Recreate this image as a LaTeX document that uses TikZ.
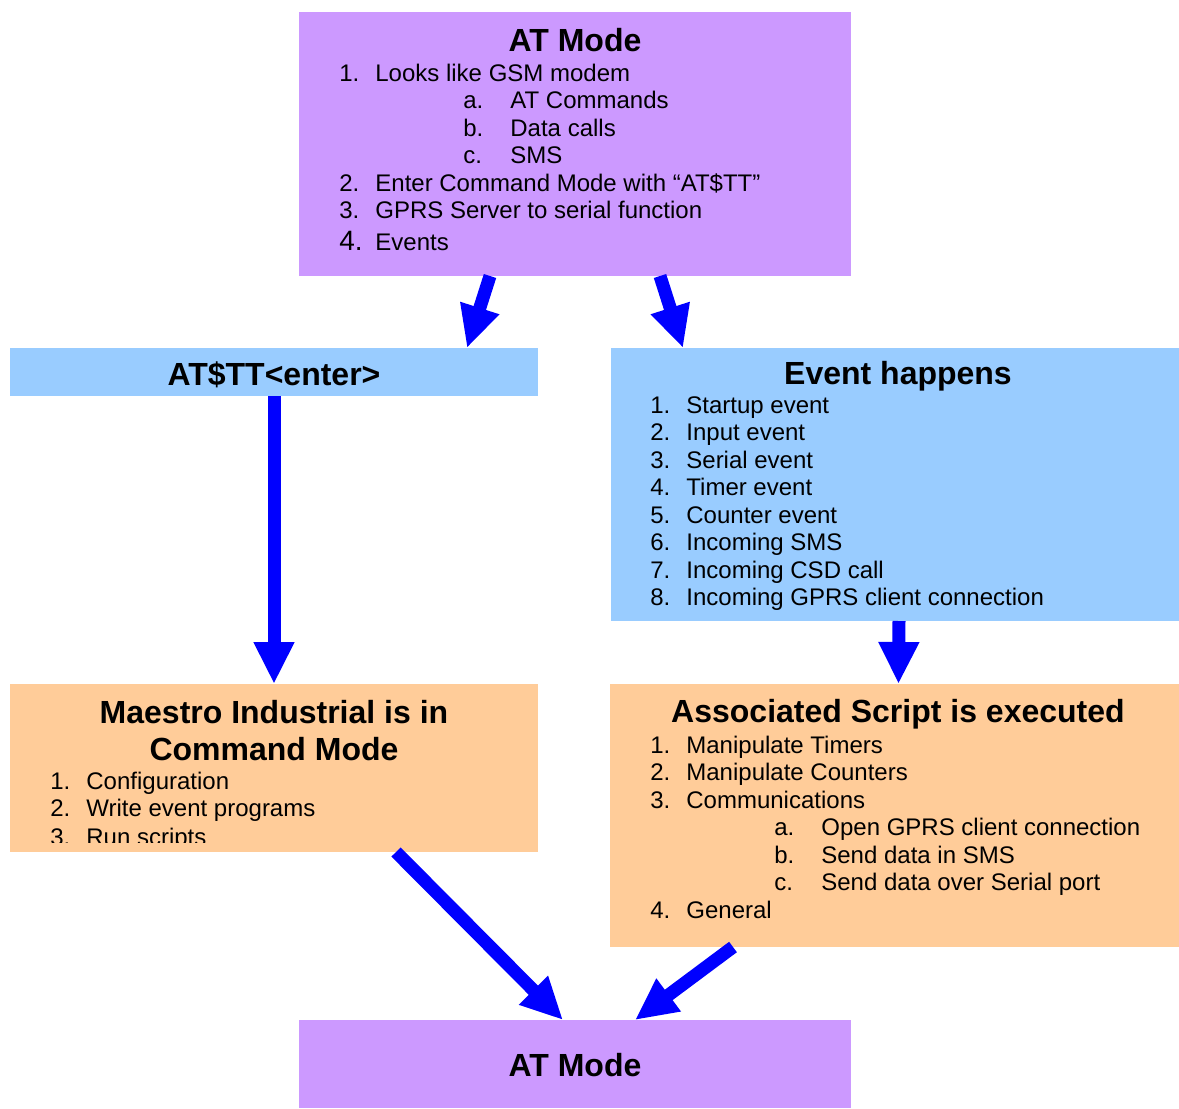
\documentclass[tikz,border=0pt]{standalone}
\usepackage{fontspec}
\setmainfont{Liberation Sans}
\usepackage{tikz}
\usetikzlibrary{
  arrows.meta
}
\definecolor{atmode}{HTML}{CC99FF}
\definecolor{trigger}{HTML}{99CCFF}
\definecolor{action}{HTML}{FFCC99}
\colorlet{flow}{blue}
\tikzset{
  every box/.style={inner sep=0pt,outer sep=0pt},
  at box/.style={every box,fill=atmode},
  trigger box/.style={every box,fill=trigger},
  action box/.style={every box,fill=action},
  box title/.style={font=\fontsize{16}{18.5}\selectfont\bfseries,anchor=base,inner sep=0pt},
  box list/.style={font=\fontsize{12}{13.75}\selectfont,anchor=base west,inner sep=0pt},
  flow arrow/.style={draw=flow,line width=6.5pt,-{Triangle[width=19pt,length=21pt]}},
}
\newcommand\numitem[2]{\makebox[18pt][l]{#1}#2}
\newcommand\letitem[2]{\hspace*{62pt}\makebox[23.5pt][l]{#1}#2}

\begin{document}
\begin{tikzpicture}[x=0.5pt,y=-0.5pt]
\useasboundingbox (0,0) rectangle (1179,1109);
\node[at box,minimum width=276pt,minimum height=132pt] (top) at (575,144) {};
\node[trigger box,minimum width=264pt,minimum height=24pt] (att) at (274,372) {};
\node[trigger box,minimum width=284pt,minimum height=136.5pt] (event) at (895,484.5) {};
\node[action box,minimum width=264pt,minimum height=84pt] (maestro) at (274,768) {};
\node[action box,minimum width=284.5pt,minimum height=131.5pt] (script) at (894.5,815.5) {};
\node[at box,minimum width=276pt,minimum height=44pt] (bottom) at (575,1064) {};

\node[box title] (toptitle) at (575,51) {AT Mode};
\node[box list] (toplist) at (339,81) {\begin{tabular}[t]{@{}l@{}}
  \numitem{1.}{Looks like GSM modem}\\
  \letitem{a.}{AT Commands}\\
  \letitem{b.}{Data calls}\\
  \letitem{c.}{SMS}\\
  \numitem{2.}{Enter Command Mode with “AT\$TT”}\\
  \numitem{3.}{GPRS Server to serial function}\\[2.25pt]
  \numitem{\fontsize{14}{16}\selectfont 4.}{Events}
\end{tabular}};

\node[box title] (atttitle) at (274,385) {AT\$TT<enter>};

\node[box title] (eventtitle) at (898,384) {Event happens};
\node[box list] (eventlist) at (650,413) {\begin{tabular}[t]{@{}l@{}}
  \numitem{1.}{Startup event}\\
  \numitem{2.}{Input event}\\
  \numitem{3.}{Serial event}\\
  \numitem{4.}{Timer event}\\
  \numitem{5.}{Counter event}\\
  \numitem{6.}{Incoming SMS}\\
  \numitem{7.}{Incoming CSD call}\\
  \numitem{8.}{Incoming GPRS client connection}
\end{tabular}};

\node[box title] (maestrotitle) at (274,723) {\begin{tabular}[t]{@{}c@{}}
  Maestro Industrial is in\\
  Command Mode
\end{tabular}};
\begin{scope}
\clip (10,684) rectangle (538,842);
\node[box list] (maestrolist) at (50,789) {\begin{tabular}[t]{@{}l@{}}
  \numitem{1.}{Configuration}\\
  \numitem{2.}{Write event programs}\\[0.5pt]
  \numitem{3.}{Run scripts}
\end{tabular}};
\end{scope}

\node[box title] (scripttitle) at (898,722) {Associated Script is executed};
\node[box list] (scriptlist) at (650,753) {\begin{tabular}[t]{@{}l@{}}
  \numitem{1.}{Manipulate Timers}\\
  \numitem{2.}{Manipulate Counters}\\
  \numitem{3.}{Communications}\\
  \letitem{a.}{Open GPRS client connection}\\
  \letitem{b.}{Send data in SMS}\\
  \letitem{c.}{Send data over Serial port}\\
  \numitem{4.}{General}
\end{tabular}};

\node[box title] (bottomtitle) at (575,1076) {AT Mode};

\draw[flow arrow] ([xshift=95.5pt]top.south west) -- ([xshift=228.5pt]att.north west);
\draw[flow arrow] ([xshift=180.5pt]top.south west) -- ([xshift=36pt]event.north west);
\draw[flow arrow] (att.south) -- (maestro.north);
\draw[flow arrow] ([xshift=2pt]event.south) -- ([xshift=2pt]script.north);
\draw[flow arrow] ([xshift=193pt]maestro.south west) -- ([xshift=132pt]bottom.north west);
\draw[flow arrow] ([xshift=61.5pt]script.south west) -- ([xshift=168pt]bottom.north west);
\end{tikzpicture}
\end{document}
